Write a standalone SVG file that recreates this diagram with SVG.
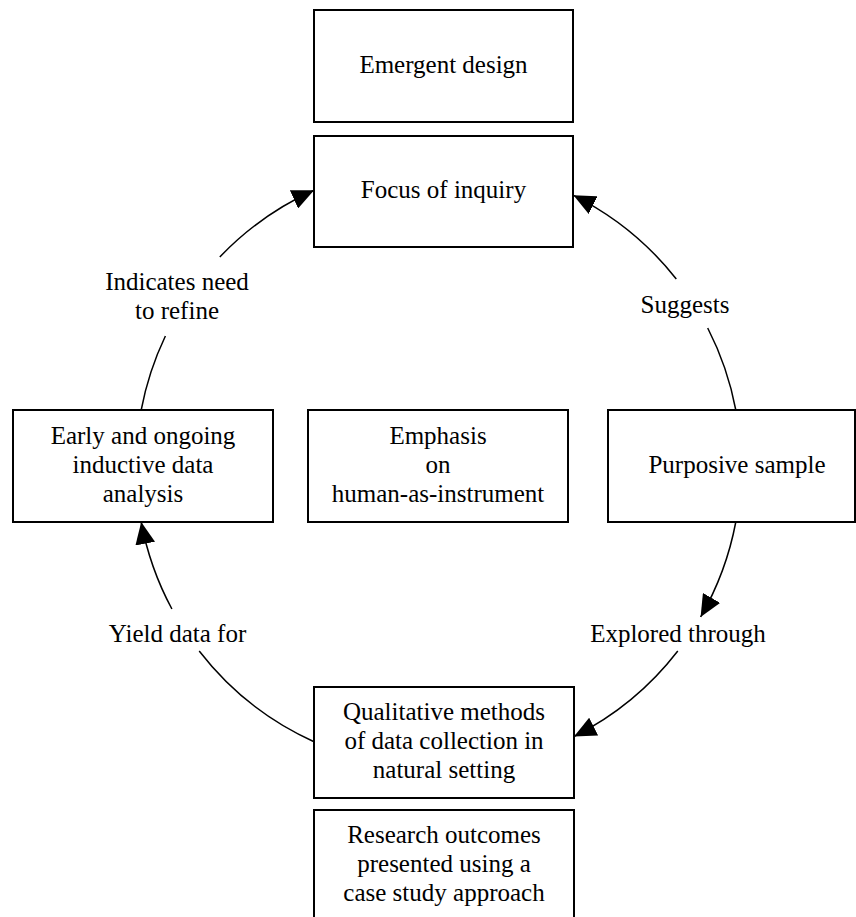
<svg xmlns="http://www.w3.org/2000/svg" width="856" height="917" viewBox="0 0 856 917">
  <style>
    .box { fill: #ffffff; stroke: #000000; stroke-width: 2; }
    .t { font-family: "Liberation Serif", "Times New Roman", Tinos, "Nimbus Roman", FreeSerif, "DejaVu Serif", "Noto Serif", serif; font-size: 25px; fill: #000000; text-anchor: middle; }
    .arc { fill: none; stroke: #000000; stroke-width: 1.5; }
  </style>
  <defs>
    <marker id="head" viewBox="0 0 22 20" refX="22" refY="10" markerWidth="22" markerHeight="20" markerUnits="userSpaceOnUse" orient="auto">
      <path d="M0,0 L22,10 L0,20 z" fill="#000000"/>
    </marker>
  </defs>
  <rect width="856" height="917" fill="#ffffff"/>

  <!-- cycle connectors: arcs of one circle, centre (438.5,466), r 302.5 -->
  <g id="connectors">
    <path class="arc" d="M141.2,410 A302.5,302.5 0 0 1 165.4,336"/>
    <path class="arc" d="M219.8,257 A302.5,302.5 0 0 1 314,190.3" marker-end="url(#head)"/>
    <path class="arc" d="M735.8,410 A302.5,302.5 0 0 0 707.7,328"/>
    <path class="arc" d="M676.3,279 A302.5,302.5 0 0 0 573.5,195.3" marker-end="url(#head)"/>
    <path class="arc" d="M735.8,522 A302.5,302.5 0 0 1 700.6,617" marker-end="url(#head)"/>
    <path class="arc" d="M677.8,651 A302.5,302.5 0 0 1 574,736.5" marker-end="url(#head)"/>
    <path class="arc" d="M314,741.7 A302.5,302.5 0 0 1 199.2,651"/>
    <path class="arc" d="M171.9,609 A302.5,302.5 0 0 1 141.2,522" marker-end="url(#head)"/>
    <text class="t" x="177" y="290">Indicates need</text>
    <text class="t" x="177" y="319">to refine</text>
    <text class="t" x="685" y="313">Suggests</text>
    <text class="t" x="678" y="642">Explored through</text>
    <text class="t" x="177.5" y="642">Yield data for</text>
  </g>

  <g id="emergent-design">
    <rect class="box" x="314" y="10" width="259" height="112"/>
    <text class="t" x="443.5" y="73">Emergent design</text>
  </g>

  <g id="focus-of-inquiry">
    <rect class="box" x="314" y="136" width="259" height="111"/>
    <text class="t" x="443.5" y="198">Focus of inquiry</text>
  </g>

  <g id="data-analysis">
    <rect class="box" x="13" y="410" width="260" height="112"/>
    <text class="t" x="143" y="444">Early and ongoing</text>
    <text class="t" x="143" y="473">inductive data</text>
    <text class="t" x="143" y="502">analysis</text>
  </g>

  <g id="human-instrument">
    <rect class="box" x="308" y="410" width="260" height="112"/>
    <text class="t" x="438" y="444">Emphasis</text>
    <text class="t" x="438" y="473">on</text>
    <text class="t" x="438" y="502">human-as-instrument</text>
  </g>

  <g id="purposive-sample">
    <rect class="box" x="608" y="410" width="247" height="112"/>
    <text class="t" x="737" y="473">Purposive sample</text>
  </g>

  <g id="qualitative-methods">
    <rect class="box" x="314" y="687" width="260" height="111"/>
    <text class="t" x="444" y="720">Qualitative methods</text>
    <text class="t" x="444" y="749">of data collection in</text>
    <text class="t" x="444" y="778">natural setting</text>
  </g>

  <g id="research-outcomes">
    <rect class="box" x="314" y="810" width="260" height="130"/>
    <text class="t" x="444" y="843">Research outcomes</text>
    <text class="t" x="444" y="872">presented using a</text>
    <text class="t" x="444" y="901">case study approach</text>
  </g>
</svg>
